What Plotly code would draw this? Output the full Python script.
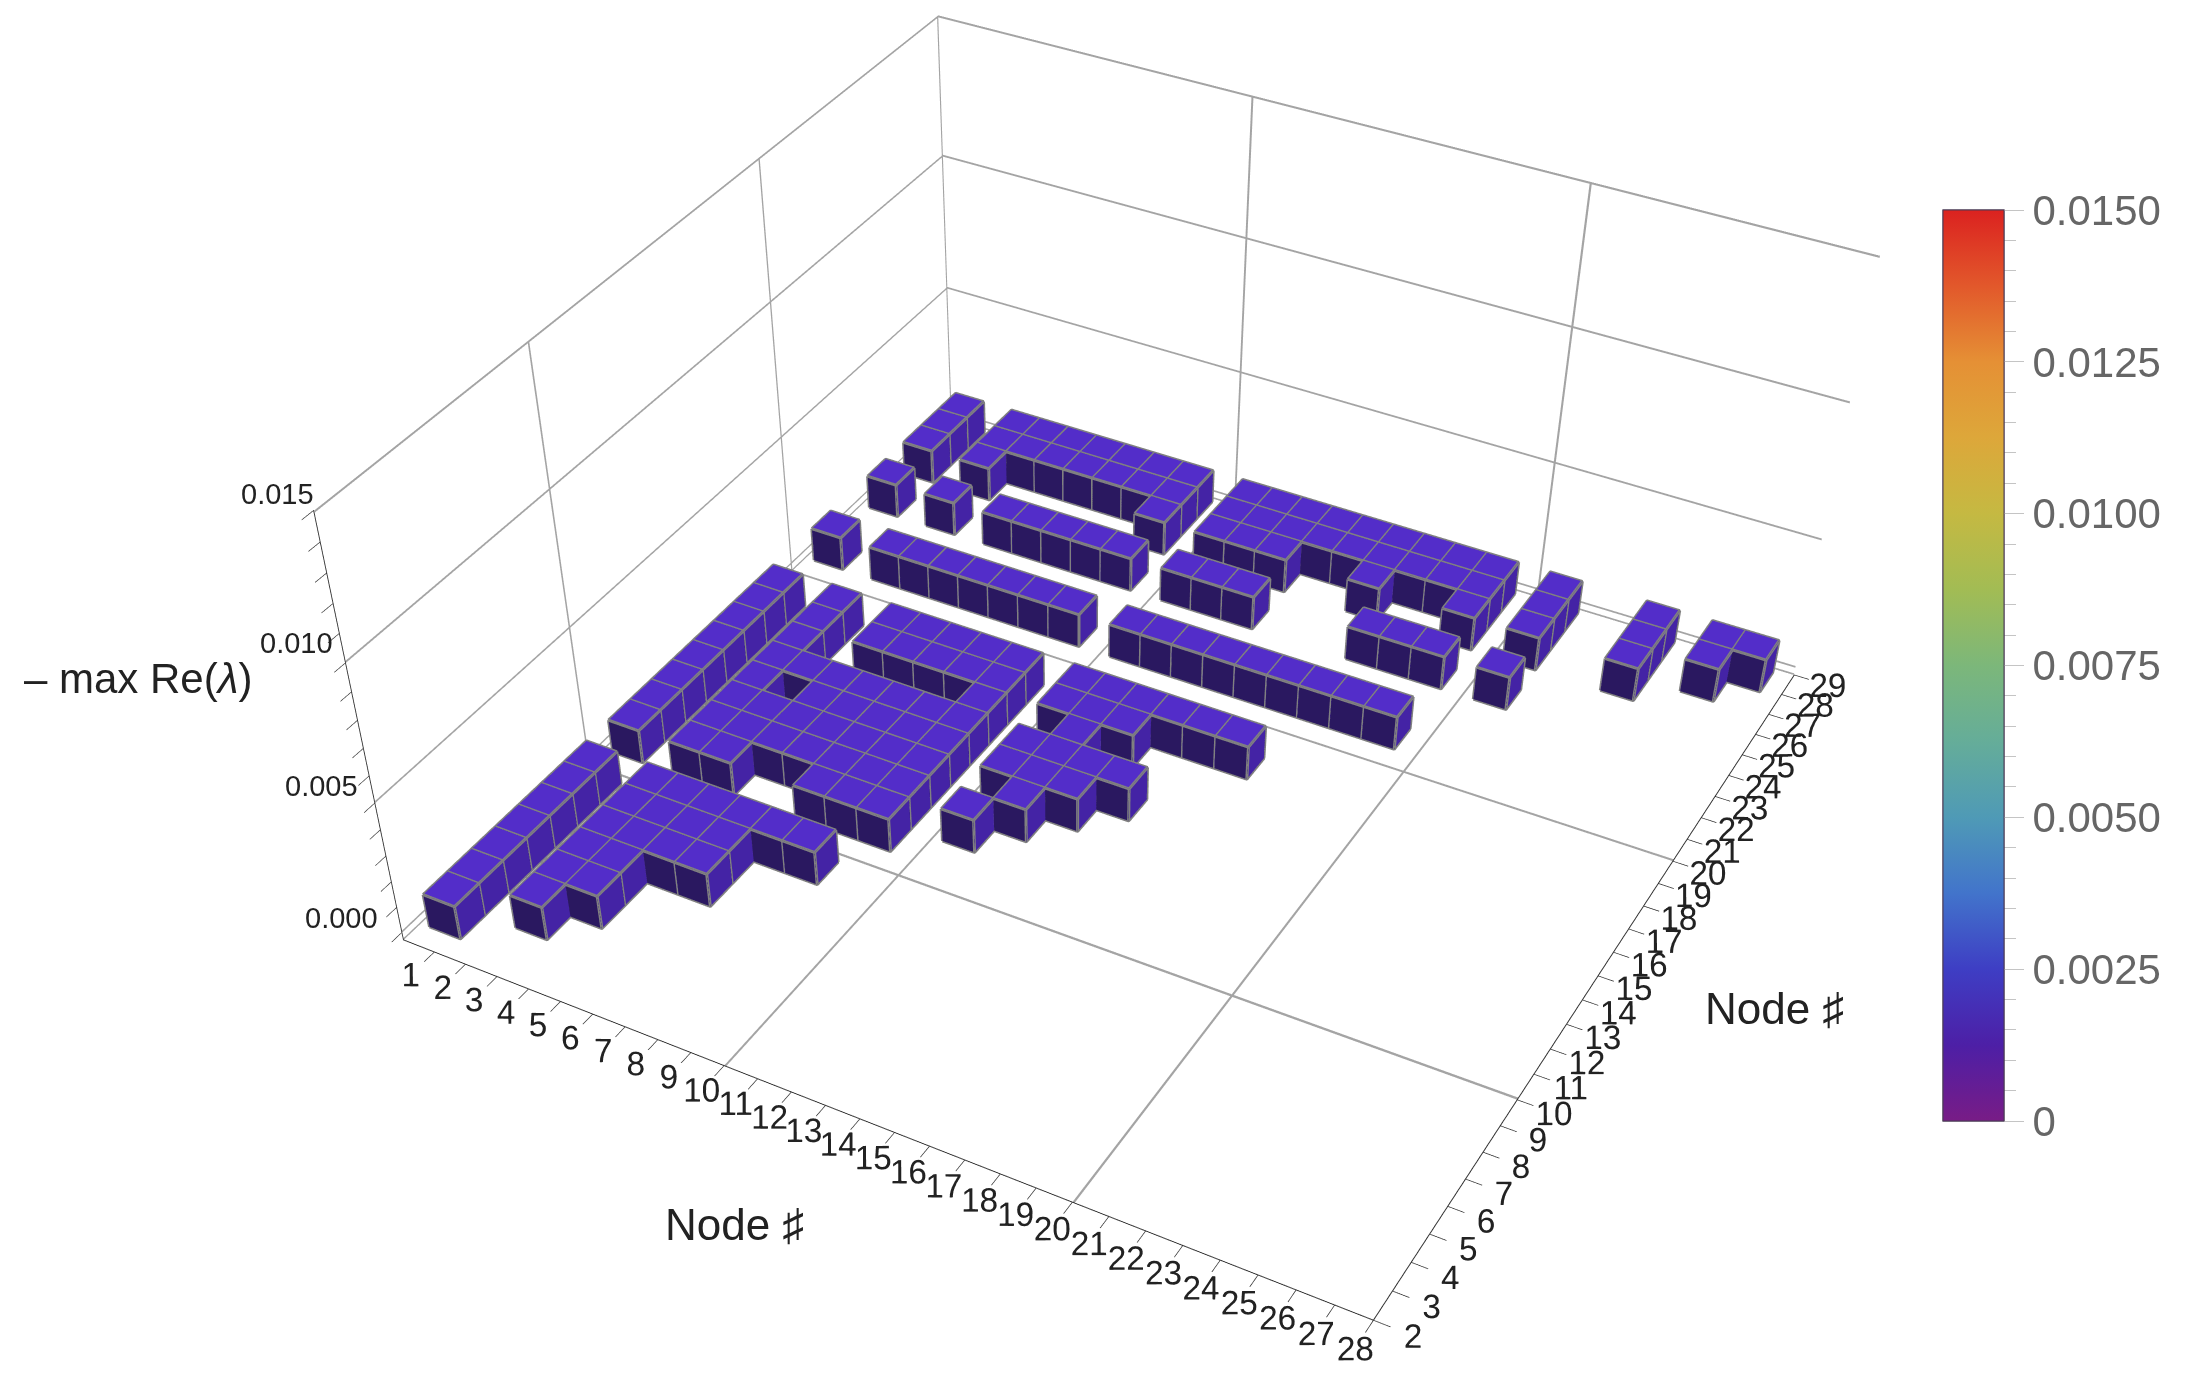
import plotly.graph_objects as go

# bars: for each x node the y nodes that have a bar
bar_nodes = {
    1: [3, 4, 5, 6, 7, 8, 9, 11, 12, 13, 14, 15, 16, 17, 18, 21, 24, 26, 27, 28],
    3: [4, 5, 6, 7, 8, 9, 11, 12, 13, 14, 15, 16, 17, 18, 21, 24, 26, 27, 28],
    4: [5, 6, 7, 8, 9, 11, 12, 13, 15, 21, 27, 28],
    5: [7, 8, 9, 12, 13, 14, 15, 17, 18, 21, 24, 27, 28],
    6: [7, 8, 9, 12, 13, 14, 15, 17, 18, 21, 24, 27, 28],
    7: [9, 11, 12, 13, 14, 15, 17, 18, 21, 24, 27, 28],
    8: [9, 11, 12, 13, 14, 15, 17, 18, 21, 24, 27, 28],
    9: [11, 12, 13, 14, 15, 16, 17, 18, 21, 24, 26, 27, 28],
    11: [12, 14, 15, 17, 18, 21, 24, 26, 27, 28],
    12: [13, 14, 15, 16, 17, 18, 21, 24, 26, 27, 28],
    13: [14, 15, 17, 18, 21, 24, 26, 27, 28],
    14: [15, 18, 21, 27, 28],
    15: [18, 21, 27, 28],
    16: [18, 21, 26, 27, 28],
    17: [21, 24, 27, 28],
    18: [21, 24, 27, 28],
    19: [21, 24, 26, 27, 28],
    21: [24, 26, 27, 28],
    24: [26, 27, 28],
    26: [27, 28],
    27: [28],
}
bar_value = 0.00128

x_ticks = list(range(1, 29))
y_ticks = list(range(2, 30))
z_major = [0.0, 0.005, 0.010, 0.015]
z_minor = [0.001, 0.002, 0.003, 0.004, 0.006, 0.007, 0.008, 0.009, 0.011, 0.012, 0.013, 0.014]
z_labels = ["0.000", "0.005", "0.010", "0.015"]
x_grid = [10, 20]
y_grid = [10, 20]
x_range = [0, 28]
y_range = [2, 29]
z_range = [-0.0003, 0.015]

cbar_major = [0, 0.0025, 0.005, 0.0075, 0.01, 0.0125, 0.015]
cbar_labels = ["0", "0.0025", "0.0050", "0.0075", "0.0100", "0.0125", "0.0150"]
cbar_minor = [i * 0.0005 for i in range(31)]
rainbow = [
    [0.0, "#781C86"], [0.0833, "#4D1FA6"], [0.1667, "#3E3EC4"], [0.25, "#4274CB"],
    [0.3333, "#4F9AB6"], [0.4167, "#65AD99"], [0.5, "#7CB77A"], [0.5833, "#A2BC54"],
    [0.6667, "#C5B942"], [0.75, "#DDA73A"], [0.8333, "#E59035"], [0.9167, "#E2582B"], [1.0, "#DB2220"],
]

# the scene is taller than the window so that the 45 degree view of gl3d gives the reference's flatter perspective
W, H = 2192, 2584
BODY_MARGIN = 8
FONT = "Liberation Sans"
TOP, FRONT, RIGHT = "#532DC9", "#2A1860", "#4423A5"
FLAT = dict(ambient=1, diffuse=0, specular=0, roughness=1, fresnel=0)


def add_bar(mesh, edges, x, y, h):
    x0, x1, y0, y1 = x - 0.5, x + 0.5, y - 0.5, y + 0.5
    n = len(mesh["x"])
    mesh["x"] += [x0, x1, x1, x0, x0, x1, x1, x0]
    mesh["y"] += [y0, y0, y1, y1, y0, y0, y1, y1]
    mesh["z"] += [0, 0, 0, 0, h, h, h, h]
    quads = [(4, 5, 6, 7, TOP), (0, 1, 5, 4, FRONT), (1, 2, 6, 5, RIGHT), (2, 3, 7, 6, FRONT), (3, 0, 4, 7, RIGHT)]
    for a, b, c, d, col in quads:
        mesh["i"] += [n + a, n + a]
        mesh["j"] += [n + b, n + c]
        mesh["k"] += [n + c, n + d]
        mesh["color"] += [col, col]
    for px, py in [(x0, y0), (x1, y0), (x1, y1), (x0, y1)]:
        edges["x"] += [px, px, None]
        edges["y"] += [py, py, None]
        edges["z"] += [0, h, None]
    for z in (0, h):
        edges["x"] += [x0, x1, x1, x0, x0, None]
        edges["y"] += [y0, y0, y1, y1, y0, None]
        edges["z"] += [z, z, z, z, z, None]


mesh = dict(x=[], y=[], z=[], i=[], j=[], k=[], color=[])
edges = dict(x=[], y=[], z=[])
for node_x, node_ys in bar_nodes.items():
    for node_y in node_ys:
        add_bar(mesh, edges, node_x, node_y, bar_value)

# frame lines on the back walls and the floor as thin ribbons, long gl lines fade out
frame = dict(x=[], y=[], z=[], i=[], j=[], k=[])


def ribbon(p, q, w):
    n = len(frame["x"])
    for a in (p, q, (q[0] + w[0], q[1] + w[1], q[2] + w[2]), (p[0] + w[0], p[1] + w[1], p[2] + w[2])):
        frame["x"].append(a[0])
        frame["y"].append(a[1])
        frame["z"].append(a[2])
    frame["i"] += [n, n]
    frame["j"] += [n + 1, n + 2]
    frame["k"] += [n + 2, n + 3]


e = 0.01
thick_z = 0.00007
xa, xb = x_range[0] + e, x_range[1] - e
ya, yb = y_range[0] + e, y_range[1] - e
za, zb = z_range[0] + 1e-6, z_range[1] - 1e-6
for z in z_major:
    zc = min(z, zb - thick_z)
    ribbon((xa, ya, zc), (xa, yb, zc), (0, 0, thick_z))
    ribbon((xa, yb, zc), (xb, yb, zc), (0, 0, thick_z))
ribbon((xa, ya, za), (xa, yb, za), (0, 0, thick_z))
ribbon((xa, yb, za), (xb, yb, za), (0, 0, thick_z))
ribbon((xa, yb - 0.06, za), (xa, yb - 0.06, zb), (0, 0.06, 0))
for x in x_grid:
    ribbon((x, ya, za), (x, yb, za), (0.06, 0, 0))
    ribbon((x, yb, za), (x, yb, zb), (0.06, 0, 0))
for y in y_grid:
    ribbon((xa, y, za), (xb, y, za), (0, 0.08, 0))
    ribbon((xa, y, za), (xa, y, zb), (0, 0.06, 0))

fig = go.Figure()
fig.add_trace(go.Mesh3d(x=frame["x"], y=frame["y"], z=frame["z"], i=frame["i"], j=frame["j"], k=frame["k"],
                        color="#A4A4A4", flatshading=True, lighting=FLAT, hoverinfo="skip"))
fig.add_trace(go.Mesh3d(x=mesh["x"], y=mesh["y"], z=mesh["z"], i=mesh["i"], j=mesh["j"], k=mesh["k"],
                        facecolor=mesh["color"], flatshading=True, lighting=FLAT))
fig.add_trace(go.Scatter3d(x=edges["x"], y=edges["y"], z=edges["z"], mode="lines",
                           line=dict(color="#808080", width=6), hoverinfo="skip", showlegend=False))

# two overlaid colorbars give the long and the short tick marks
cb_common = dict(thickness=61, lenmode="pixels", len=911, x=(1943 - BODY_MARGIN) / W, xanchor="left", xpad=0, ypad=0,
                 y=1 - (210 - BODY_MARGIN) / H, yanchor="top", outlinecolor="#4A3A55", outlinewidth=1, tickmode="array")
fig.add_trace(go.Scatter3d(x=[14], y=[15], z=[0], mode="markers", showlegend=False, hoverinfo="skip",
                           marker=dict(size=1, opacity=0, color=[0], cmin=0, cmax=0.015, colorscale=rainbow,
                                       colorbar=dict(tickvals=cbar_minor, ticktext=[""] * len(cbar_minor), ticks="outside",
                                                     ticklen=12, tickwidth=1, tickcolor="#C4C4C4", **cb_common))))
fig.add_trace(go.Scatter3d(x=[14], y=[15], z=[0], mode="markers", showlegend=False, hoverinfo="skip",
                           marker=dict(size=1, opacity=0, color=[0], cmin=0, cmax=0.015, colorscale=rainbow,
                                       colorbar=dict(tickvals=cbar_major, ticktext=cbar_labels, ticks="outside",
                                                     ticklen=20, tickwidth=1, tickcolor="#C4C4C4",
                                                     tickfont=dict(family=FONT, size=42, color="#666666"), **cb_common))))

axis_common = dict(showbackground=False, showgrid=False, zeroline=False, showspikes=False, showline=True,
                   linecolor="#303030", linewidth=2, ticks="inside", ticklen=14, tickwidth=1.5, tickcolor="#303030",
                   tickfont=dict(family=FONT, size=20, color="#222222"), title=dict(text=""), tickangle=0)
z_vals = z_major + z_minor


def label(text, px, py, size=44):
    return dict(text=text, x=(px - BODY_MARGIN) / W, y=1 - (py - BODY_MARGIN) / H, xref="paper", yref="paper",
                showarrow=False, xanchor="center", yanchor="middle", font=dict(family=FONT, size=size, color="#222222"))


# z tick labels sit further from the axis than gl3d would put them
z_label_pos = [(341, 918), (321, 786), (296, 643), (277, 494)]

fig.update_layout(
    width=W, height=H,
    margin=dict(l=0, r=0, t=0, b=0, autoexpand=False),
    paper_bgcolor="white",
    scene=dict(
        domain=dict(x=[0, 2138.7 / W], y=[0, 1]),
        xaxis=dict(range=x_range, tickmode="array", tickvals=x_ticks, ticktext=[str(v) for v in x_ticks], **axis_common),
        yaxis=dict(range=y_range, tickmode="array", tickvals=y_ticks, ticktext=[str(v) for v in y_ticks], **axis_common),
        zaxis=dict(range=z_range, tickmode="array", tickvals=z_vals, ticktext=[""] * len(z_vals), **axis_common),
        aspectmode="manual",
        aspectratio=dict(x=1, y=1.01763, z=0.46602),
        camera=dict(eye=dict(x=1.12069, y=-2.15485, z=1.69046), center=dict(x=0.14639, y=-0.37564, z=-0.52057),
                    up=dict(x=0, y=0, z=1)),
    ),
    annotations=[label("Node ♯", 734, 1224), label("Node ♯", 1774, 1008), label("– max Re(<i>λ</i>)", 138, 678, 42)]
    + [label(t, px, py, 29) for t, (px, py) in zip(z_labels, z_label_pos)],
)
fig.write_html("out.html")
